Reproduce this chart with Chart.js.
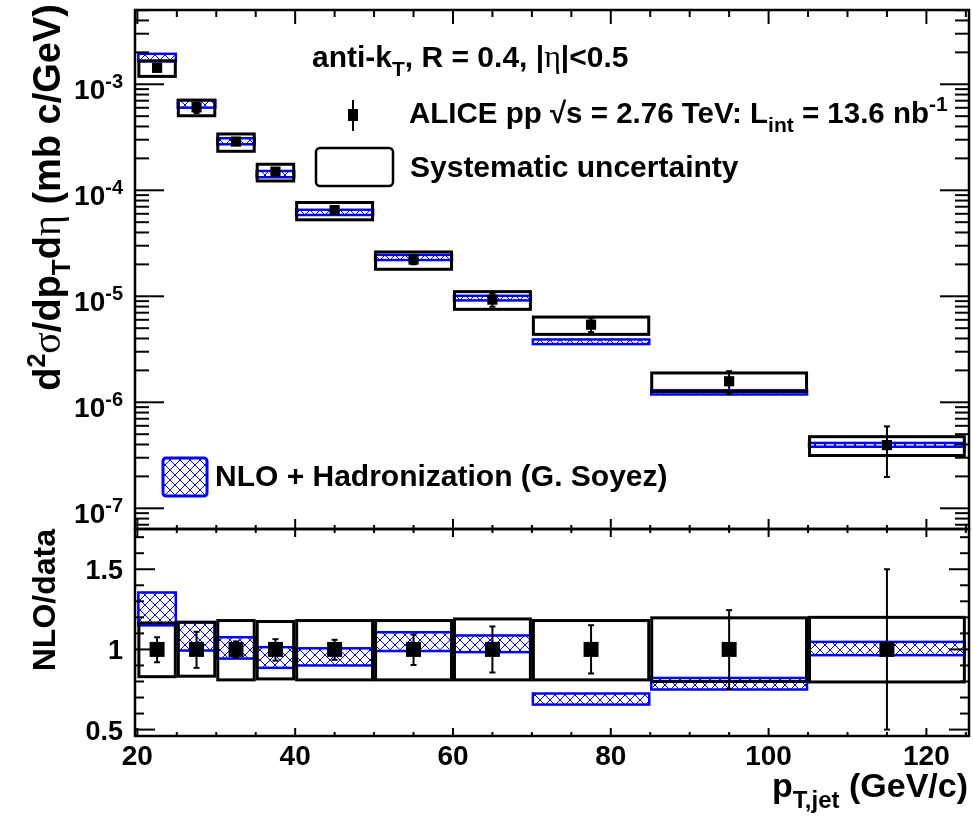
<!DOCTYPE html>
<html>
<head>
<meta charset="utf-8">
<script src="https://cdn.jsdelivr.net/npm/chart.js@4.4.0/dist/chart.umd.min.js"></script>
<style>
body { margin: 0; background: #fff; }
#wrap { position: relative; width: 973px; height: 823px; }
canvas { position: absolute; left: 0; top: 0; }
</style>
</head>
<body>
<div id="wrap">
<canvas id="spectrum" width="973" height="823"></canvas>
<canvas id="ratio" width="973" height="823"></canvas>
</div>
<script>
// bins in pT (GeV/c)
const binLow = [20, 25, 30, 35, 40, 50, 60, 70, 85, 105]
const binHigh = [25, 30, 35, 40, 50, 60, 70, 85, 105, 125]
const ptCenter = [22.5, 27.5, 32.5, 37.5, 45, 55, 65, 77.5, 95, 115]

// measured cross section (mb c/GeV)
const crossSection = [1.43e-3, 6.06e-4, 2.88e-4, 1.50e-4, 6.5e-5, 2.22e-5, 9.3e-6, 5.4e-6, 1.58e-6, 3.95e-7]

// everything below relative to data (= lower panel)
const dataRatio = [1, 1, 1, 1, 1, 1, 1, 1, 1, 1]
const statLow = [0.92, 0.885, 0.95, 0.93, 0.935, 0.903, 0.856, 0.85, 0.754, 0.50]
const statHigh = [1.076, 1.11, 1.05, 1.064, 1.06, 1.093, 1.143, 1.151, 1.245, 1.50]
const sysLow = [0.83, 0.833, 0.81, 0.816, 0.81, 0.81, 0.81, 0.81, 0.80, 0.797]
const sysHigh = [1.165, 1.17, 1.18, 1.174, 1.18, 1.18, 1.19, 1.18, 1.197, 1.20]
const nloLow = [1.15, 0.993, 0.943, 0.885, 0.90, 0.99, 0.983, 0.656, 0.75, 0.964]
const nloHigh = [1.355, 1.168, 1.076, 1.014, 1.007, 1.107, 1.087, 0.725, 0.822, 1.047]

// axis ticks
const xTickValues = [20, 40, 60, 80, 100, 120]
const xTickLabels = ['20', '40', '60', '80', '100', '120']
const logTickValues = [1e-7, 1e-6, 1e-5, 1e-4, 1e-3]
const logTickExponents = ['-7', '-6', '-5', '-4', '-3']
const ratioTickValues = [0.5, 1, 1.5]
const ratioTickLabels = ['0.5', '1', '1.5']

const xMin = 19.7
const xMax = 125.4
const BLUE = '#0000ff'
const SANS = '"Liberation Sans", Arial, Helvetica, sans-serif'
const SERIF = '"Liberation Serif", "Times New Roman", serif'

let hatchPattern = null
function getHatch(ctx) {
    if (hatchPattern) return hatchPattern
    const c = document.createElement('canvas')
    c.width = 10
    c.height = 10
    const p = c.getContext('2d')
    p.strokeStyle = BLUE
    p.lineWidth = 1
    p.beginPath()
    p.moveTo(0, 0); p.lineTo(10, 10)
    p.moveTo(10, 0); p.lineTo(0, 10)
    p.stroke()
    hatchPattern = ctx.createPattern(c, 'repeat')
    return hatchPattern
}

function line(ctx, x1, y1, x2, y2) {
    ctx.beginPath()
    ctx.moveTo(x1, y1)
    ctx.lineTo(x2, y2)
    ctx.stroke()
}

// parts: [text, size, dy, greek]
function rich(ctx, x, y, parts, align) {
    const fontOf = p => p[3] ? `${p[1]}px ${SERIF}` : `bold ${p[1]}px ${SANS}`
    let w = 0
    for (const p of parts) { ctx.font = fontOf(p); w += ctx.measureText(p[0]).width }
    let cx = align === 'right' ? x - w : (align === 'center' ? x - w / 2 : x)
    ctx.textAlign = 'left'
    ctx.textBaseline = 'alphabetic'
    for (const p of parts) {
        ctx.font = fontOf(p)
        ctx.fillText(p[0], cx, y + (p[2] || 0))
        cx += ctx.measureText(p[0]).width
    }
}

function drawBins(chart, yScale, values) {
    const ctx = chart.ctx
    const xs = chart.scales.x
    ctx.save()
    // NLO bands
    for (let i = 0; i < binLow.length; i++) {
        const left = xs.getPixelForValue(binLow[i])
        const right = xs.getPixelForValue(binHigh[i])
        const top = yScale.getPixelForValue(values[i] * nloHigh[i])
        const bottom = yScale.getPixelForValue(values[i] * nloLow[i])
        ctx.fillStyle = getHatch(ctx)
        ctx.fillRect(left, top, right - left, bottom - top)
        ctx.strokeStyle = BLUE
        ctx.lineWidth = 2.5
        ctx.strokeRect(left + 1, top, right - left - 2, bottom - top)
    }
    // systematic boxes
    ctx.strokeStyle = '#000'
    ctx.lineWidth = 3
    for (let i = 0; i < binLow.length; i++) {
        const left = xs.getPixelForValue(binLow[i])
        const right = xs.getPixelForValue(binHigh[i])
        const top = yScale.getPixelForValue(values[i] * sysHigh[i])
        const bottom = yScale.getPixelForValue(values[i] * sysLow[i])
        ctx.strokeRect(left + 1.5, top, right - left - 3, bottom - top)
    }
    // statistical error bars
    ctx.lineWidth = 2
    for (let i = 0; i < binLow.length; i++) {
        const px = xs.getPixelForValue(ptCenter[i])
        const top = yScale.getPixelForValue(values[i] * statHigh[i])
        const bottom = yScale.getPixelForValue(values[i] * statLow[i])
        line(ctx, px, top, px, bottom)
        line(ctx, px - 3, top, px + 3, top)
        line(ctx, px - 3, bottom, px + 3, bottom)
    }
    ctx.restore()
}

function drawXTicks(ctx, xs, y, dir, major, minor) {
    for (let v = 20; v <= 125; v += 5) {
        const px = xs.getPixelForValue(v)
        const len = v % 20 === 0 ? major : minor
        line(ctx, px, y, px, y + dir * len)
    }
}

const spectrumPlugin = {
    id: 'spectrumDraw',
    beforeDatasetsDraw(chart) {
        drawBins(chart, chart.scales.y, crossSection)
    },
    afterDraw(chart) {
        const ctx = chart.ctx
        const a = chart.chartArea
        const xs = chart.scales.x
        const ys = chart.scales.y
        ctx.save()
        ctx.strokeStyle = '#000'
        ctx.fillStyle = '#000'
        ctx.lineWidth = 2
        // log ticks, both sides
        for (let e = -8; e <= -2; e++) {
            for (let m = 1; m <= 9; m++) {
                const v = m * Math.pow(10, e)
                if (v < ys.min || v > ys.max) continue
                const py = ys.getPixelForValue(v)
                const len = m === 1 ? 29 : 14
                line(ctx, a.left, py, a.left + len, py)
                line(ctx, a.right, py, a.right - len, py)
            }
        }
        drawXTicks(ctx, xs, a.top, 1, 14, 7)
        drawXTicks(ctx, xs, a.bottom, -1, 10, 4)
        ctx.lineWidth = 2.5
        ctx.strokeRect(a.left, a.top, a.right - a.left, a.bottom - a.top)

        // tick labels 10^n
        for (let i = 0; i < logTickValues.length; i++) {
            const py = ys.getPixelForValue(logTickValues[i])
            rich(ctx, 123, py + 15, [['10', 28], [logTickExponents[i], 20, -11]], 'right')
        }

        // y title
        ctx.save()
        ctx.translate(60, 4)
        ctx.rotate(-Math.PI / 2)
        rich(ctx, 0, 0, [['d', 38], ['2', 25, -15], ['σ', 40, 0, true], ['/dp', 38], ['T', 26, 10],
            ['d', 38], ['η', 40, 0, true], [' (mb c/GeV)', 38]], 'right')
        ctx.restore()

        // legend
        rich(ctx, 312, 67, [['anti-k', 30], ['T', 21, 9], [', R = 0.4, |', 30], ['η', 32, 0, true], ['|<0.5', 30]], 'left')
        ctx.lineWidth = 2
        line(ctx, 353, 100, 353, 131)
        ctx.fillRect(348, 109, 10, 12)
        rich(ctx, 409, 123, [['ALICE pp ', 29.5], ['√', 29.5], ['s = 2.76 TeV: L', 29.5], ['int', 21, 9],
            [' = 13.6 nb', 29.5], ['-1', 21, -12]], 'left')
        ctx.lineWidth = 2.5
        ctx.beginPath()
        ctx.roundRect(316, 148, 77, 38, 4)
        ctx.stroke()
        rich(ctx, 410, 177, [['Systematic uncertainty', 30]], 'left')

        ctx.fillStyle = getHatch(ctx)
        ctx.fillRect(163, 458, 44, 38)
        ctx.strokeStyle = BLUE
        ctx.lineWidth = 3
        ctx.beginPath()
        ctx.roundRect(163, 458, 44, 38, 3)
        ctx.stroke()
        ctx.fillStyle = '#000'
        rich(ctx, 215, 486, [['NLO + Hadronization (G. Soyez)', 30]], 'left')
        ctx.restore()
    }
}

const ratioPlugin = {
    id: 'ratioDraw',
    beforeDatasetsDraw(chart) {
        drawBins(chart, chart.scales.y, dataRatio)
    },
    afterDraw(chart) {
        const ctx = chart.ctx
        const a = chart.chartArea
        const xs = chart.scales.x
        const ys = chart.scales.y
        ctx.save()
        ctx.strokeStyle = '#000'
        ctx.fillStyle = '#000'
        ctx.lineWidth = 2
        for (let k = 5; k <= 17; k++) {
            const py = ys.getPixelForValue(k / 10)
            const len = k % 5 === 0 ? 20 : 9
            line(ctx, a.left, py, a.left + len, py)
            line(ctx, a.right, py, a.right - len, py)
        }
        drawXTicks(ctx, xs, a.top, 1, 8, 4)
        drawXTicks(ctx, xs, a.bottom, -1, 8, 4)
        ctx.lineWidth = 2.5
        ctx.strokeRect(a.left, a.top, a.right - a.left, a.bottom - a.top)

        for (let i = 0; i < ratioTickValues.length; i++) {
            const py = ys.getPixelForValue(ratioTickValues[i])
            rich(ctx, 123, py + 10, [[ratioTickLabels[i], 27]], 'right')
        }
        for (let i = 0; i < xTickValues.length; i++) {
            const px = xs.getPixelForValue(xTickValues[i])
            rich(ctx, px, 765, [[xTickLabels[i], 28]], 'center')
        }

        ctx.save()
        ctx.translate(55, 529)
        ctx.rotate(-Math.PI / 2)
        rich(ctx, 0, 0, [['NLO/data', 32]], 'right')
        ctx.restore()

        rich(ctx, 968, 797, [['p', 34], ['T,jet', 24, 11], [' (GeV/c)', 34]], 'right')
        ctx.restore()
    }
}

const baseOptions = (padding, yScale) => ({
    responsive: false,
    animation: false,
    devicePixelRatio: 1,
    layout: { padding: padding, autoPadding: false },
    plugins: { legend: { display: false }, tooltip: { enabled: false } },
    scales: {
        x: { type: 'linear', display: false, min: xMin, max: xMax },
        y: yScale
    }
})

const spectrumChart = new Chart(document.getElementById('spectrum'), {
    type: 'scatter',
    data: {
        datasets: [{
            label: 'ALICE pp',
            data: ptCenter.map((x, i) => ({ x: x, y: crossSection[i] })),
            pointStyle: 'rect',
            pointRadius: 7.2,
            backgroundColor: '#000',
            borderWidth: 0
        }]
    },
    options: baseOptions({ left: 135, top: 10, right: 4, bottom: 294 },
        { type: 'logarithmic', display: false, min: 6.38e-8, max: 5.02e-3, bounds: 'data' }),
    plugins: [spectrumPlugin]
})

const ratioChart = new Chart(document.getElementById('ratio'), {
    type: 'scatter',
    data: {
        datasets: [{
            label: 'data/data',
            data: ptCenter.map((x, i) => ({ x: x, y: dataRatio[i] })),
            pointStyle: 'rect',
            pointRadius: 10.6,
            backgroundColor: '#000',
            borderWidth: 0
        }]
    },
    options: baseOptions({ left: 135, top: 529, right: 4, bottom: 87 },
        { type: 'linear', display: false, min: 0.46, max: 1.751, bounds: 'data' }),
    plugins: [ratioPlugin]
})
</script>
</body>
</html>
